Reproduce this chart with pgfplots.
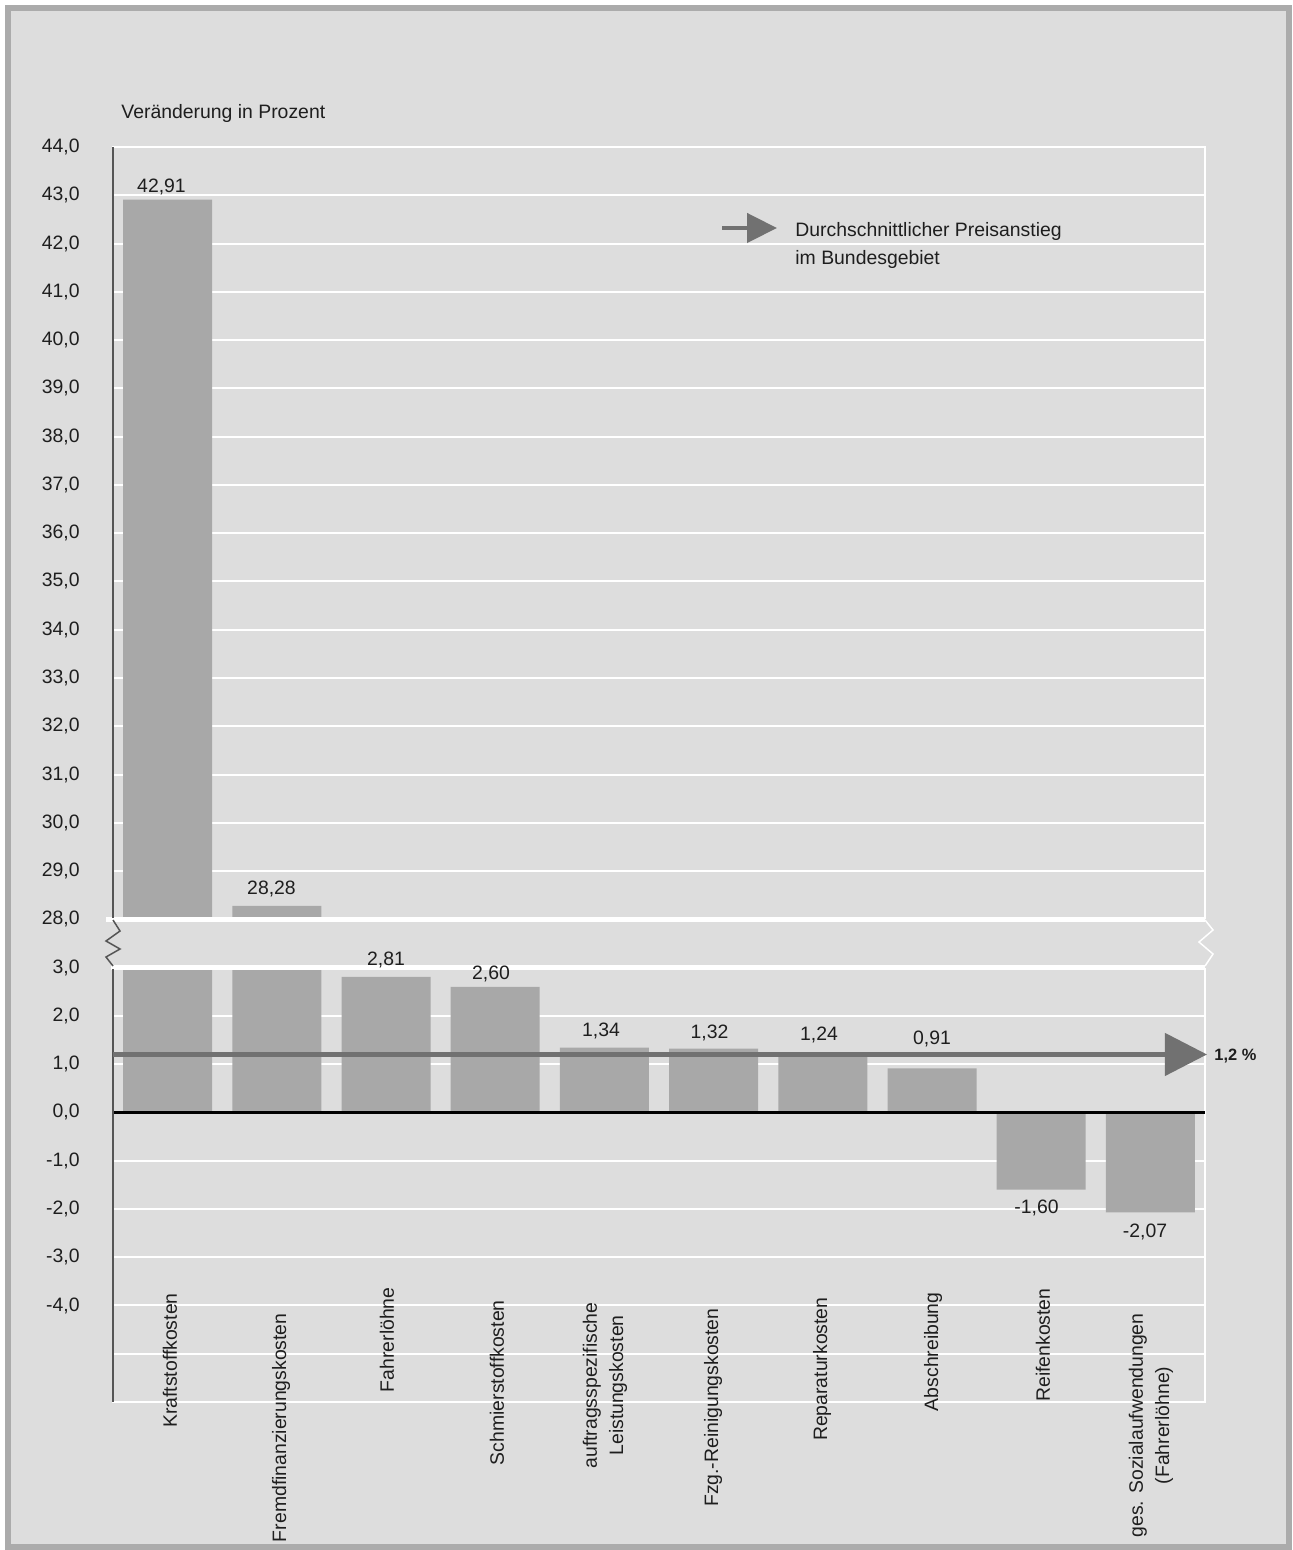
\documentclass[border=0pt]{standalone}
\usepackage{fontspec}
\setmainfont{Liberation Sans}
\usepackage{pgfplots}
\pgfplotsset{compat=1.18}
\usetikzlibrary{arrows.meta}
\definecolor{bgcol}{HTML}{DDDDDD}
\definecolor{framecol}{HTML}{ABABAB}
\definecolor{barcol}{HTML}{A8A8A8}
\definecolor{avgcol}{HTML}{717171}
\definecolor{axcol}{HTML}{555555}
\definecolor{txtcol}{HTML}{1E1E1E}
\newcommand{\fs}{\fontsize{9.7}{11.6}\selectfont}
\begin{document}
\begin{tikzpicture}
\begin{scope}[x=0.5pt,y=-0.5pt]
\useasboundingbox (0,0) rectangle (1292,1550);
\fill[white] (0,0) rectangle (1292,1550);
\filldraw[fill=bgcol, draw=framecol, line width=3pt] (8,8.5) rectangle (1289,1547);
\end{scope}
\begin{axis}[
  at={(56.5pt,-701pt)}, anchor=south west,
  scale only axis, width=546pt, height=627.5pt,
  xmin=0.5, xmax=10.5, ymin=-6, ymax=20,
  clip=false,
  axis line style={white, line width=1pt},
  xtick=\empty,
  ytick={-5,...,20},
  yticklabels={{},{-4,0},{-3,0},{-2,0},{-1,0},{0,0},{1,0},{2,0},{3,0},{28,0},{29,0},{30,0},{31,0},{32,0},{33,0},{34,0},{35,0},{36,0},{37,0},{38,0},{39,0},{40,0},{41,0},{42,0},{43,0},{44,0}},
  ymajorgrids, grid style={white, line width=1pt},
  major tick length=0pt,
  tick style={draw=none},
  yticklabel style={anchor=east, inner sep=0pt, xshift=-16.5pt, font=\fs, text=txtcol},
  /pgf/number format/assume math mode=true,
]
% bars (broken axis: values above 28 are shifted down by 24)
\addplot[ybar, bar width=44.5pt, fill=barcol, draw=none,
  y filter/.expression={y>3.5 ? y-24 : y}]
  coordinates {(1,42.91) (2,28.28) (3,2.81) (4,2.60) (5,1.34) (6,1.32) (7,1.24) (8,0.91) (9,-1.60) (10,-2.07)};
% axis break band
\fill[bgcol] (axis cs:0.48,3) rectangle (axis cs:10.52,4);
\draw[white, line width=2.75pt] (axis cs:0.436,4) -- (axis cs:10.5,4);
\draw[white, line width=2.75pt] (axis cs:0.48,3) -- (axis cs:10.5,3);
% zero line
\draw[black, line width=1.25pt] (axis cs:0.5,0) -- (axis cs:10.5,0);
% left axis line
\draw[axcol, line width=0.75pt] (axis cs:0.5,-6) -- (axis cs:0.5,2.97);
\draw[axcol, line width=0.75pt] (axis cs:0.5,4.03) -- (axis cs:0.5,20);
% average line
\addplot[avgcol, line width=2.25pt, -{Triangle[length=21pt,width=21pt]}]
  coordinates {(0.5,1.2) (10.518,1.2)};
\end{axis}
\begin{scope}[x=0.5pt,y=-0.5pt]
% zigzags
\draw[axcol, line width=0.75pt] (113,920) -- (120,931) -- (106,941) -- (120,949) -- (106,957) -- (113,966);
\draw[white, line width=0.75pt] (1205,920) -- (1213,930) -- (1199,942) -- (1213,954) -- (1205,966);
% title
\node[anchor=base west, inner sep=0pt, font=\fs, text=txtcol] at (121,119) {Veränderung in Prozent};
% legend
\draw[avgcol, line width=2.25pt, -{Triangle[length=15pt,width=14.5pt]}] (722,228) -- (777,228);
\node[anchor=base west, inner sep=0pt, font=\fs, text=txtcol] at (795,237) {Durchschnittlicher Preisanstieg};
\node[anchor=base west, inner sep=0pt, font=\fs, text=txtcol] at (795,265) {im Bundesgebiet};
% average label
\node[anchor=base west, inner sep=0pt, font=\fontsize{8.2}{10}\selectfont\bfseries, text=txtcol] at (1214,1060) {1,2 \%};
% data labels
\begin{scope}[every node/.style={anchor=base, inner sep=0pt, font=\fs, text=txtcol}]
\node at (161.5,193) {42,91};
\node at (271.5,894) {28,28};
\node at (386,965) {2,81};
\node at (491,979) {2,60};
\node at (601,1036) {1,34};
\node at (709.5,1038) {1,32};
\node at (819,1040) {1,24};
\node at (932,1044) {0,91};
\node at (1036.5,1213) {-1,60};
\node at (1145,1237) {-2,07};
\end{scope}
% category labels
\begin{scope}[every node/.style={rotate=90, anchor=east, inner sep=0pt, align=center, font=\fontsize{9.7}{13.2}\selectfont, text=txtcol}]
\node at (170,1293) {Kraftstoffkosten};
\node at (281,1313) {Fremdfinanzierungskosten};
\node at (387,1287) {Fahrerlöhne};
\node at (497,1300) {Schmierstoffkosten};
\node at (605,1302) {auftragsspezifische\\Leistungskosten};
\node at (713,1308) {Fzg.-Reinigungskosten};
\node at (822,1297) {Reparaturkosten};
\node at (933,1292) {Abschreibung};
\node at (1043,1288) {Reifenkosten};
\node at (1151,1313) {ges. Sozialaufwendungen\\(Fahrerlöhne)};
\end{scope}
\end{scope}
\end{tikzpicture}
\end{document}
